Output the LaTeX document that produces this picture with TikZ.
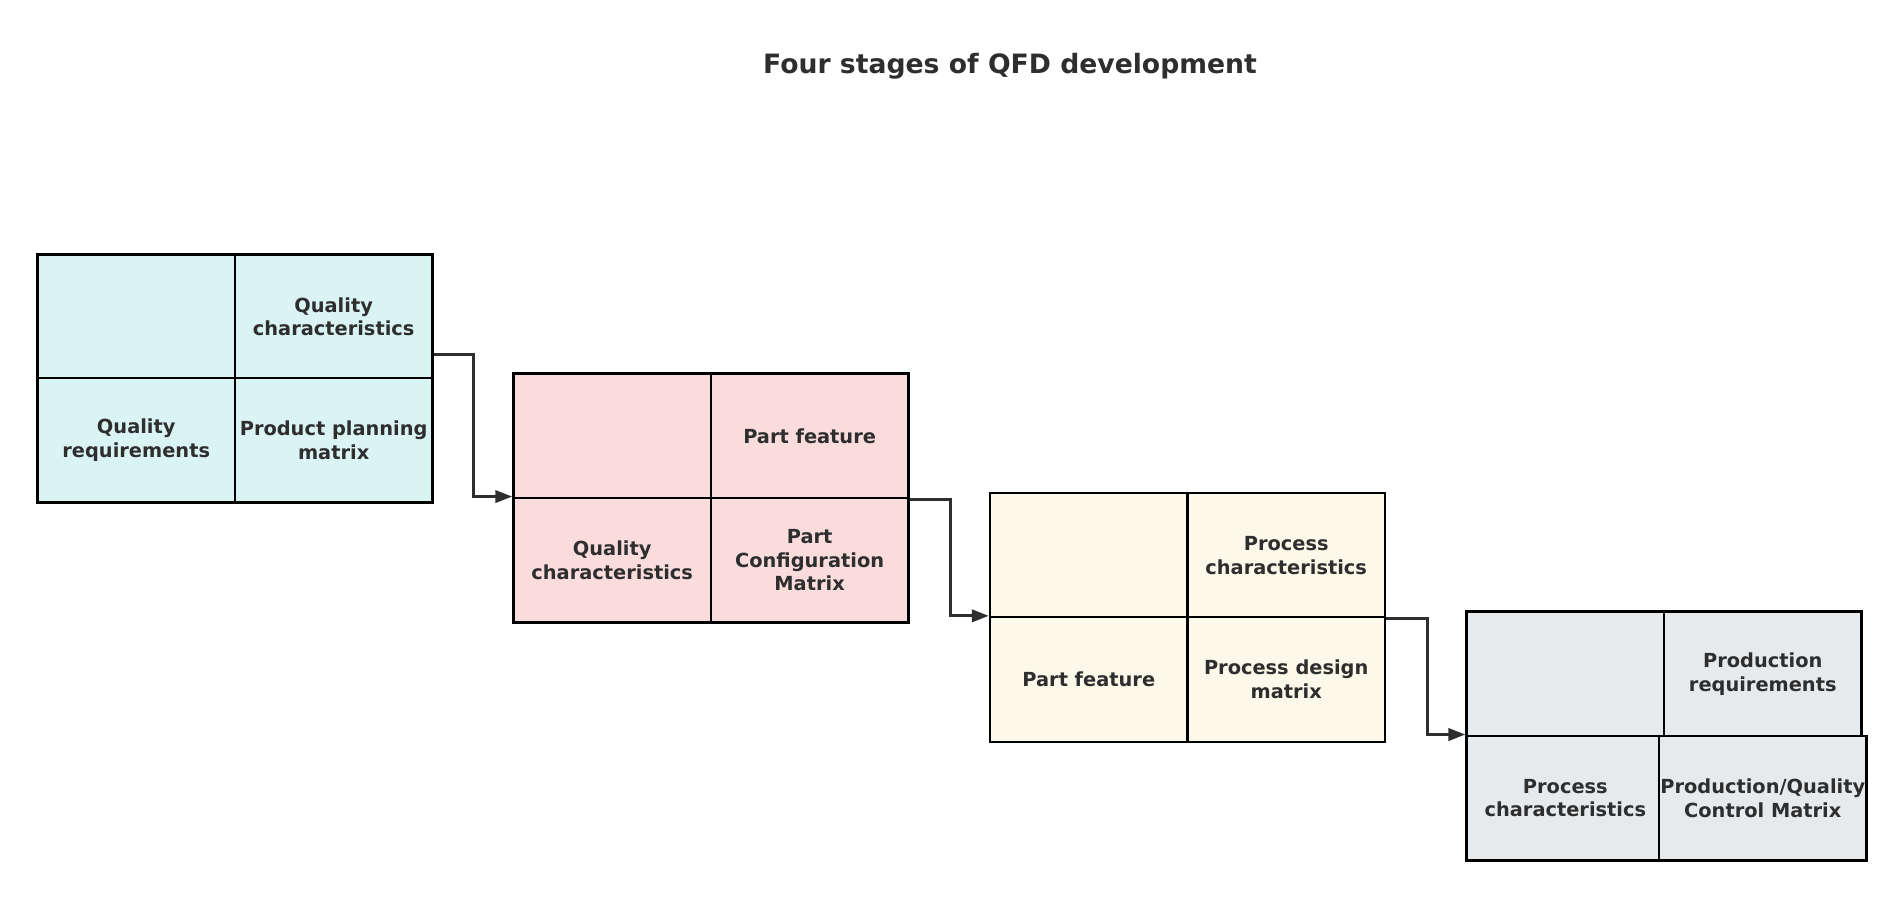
\documentclass[tikz,border=0pt]{standalone}
\usepackage{fontspec}
\setmainfont{DejaVu Sans}
\usetikzlibrary{arrows.meta}
\definecolor{cyanfill}{HTML}{DAF4F3}
\definecolor{pinkfill}{HTML}{FADCDC}
\definecolor{creamfill}{HTML}{FCF8EA}
\definecolor{greyfill}{HTML}{E6EAED}
\definecolor{ink}{HTML}{2E2E2E}
\tikzset{
  cell/.style={draw=black, line width=2pt, minimum width=163pt, minimum height=103pt,
    inner sep=1pt, align=center, text=ink, font=\fontsize{16}{19.5}\selectfont\bfseries},
  link/.style={draw=ink, line width=2.6pt, -{Triangle[length=14pt,width=10pt]}}
}
\begin{document}
\begin{tikzpicture}[x=1pt,y=-1pt]
  \useasboundingbox (0,0) rectangle (1568,741);
  \node[text=ink, font=\fontsize{22}{26}\selectfont\bfseries] (title) at (834,55) {Four stages of QFD development};

  % stage 1
  \node[cell, fill=cyanfill] (a1) at (112.5,261.5) {};
  \node[cell, fill=cyanfill] (a2) at (275.5,261.5) {Quality\\characteristics};
  \node[cell, fill=cyanfill] (a3) at (112.5,363.5) {Quality\\requirements};
  \node[cell, fill=cyanfill] (a4) at (275.5,363.5) {Product planning\\matrix};

  % stage 2
  \node[cell, fill=pinkfill] (b1) at (505.5,360) {};
  \node[cell, fill=pinkfill] (b2) at (668.5,360) {Part feature};
  \node[cell, fill=pinkfill] (b3) at (505.5,462.5) {Quality\\characteristics};
  \node[cell, fill=pinkfill] (b4) at (668.5,462.5) {Part\\Configuration\\Matrix};

  % stage 3
  \node[cell, fill=creamfill] (c1) at (899,458.5) {};
  \node[cell, fill=creamfill] (c2) at (1062,458.5) {Process\\characteristics};
  \node[cell, fill=creamfill] (c3) at (899,561) {Part feature};
  \node[cell, fill=creamfill] (c4) at (1062,561) {Process design\\matrix};

  % stage 4
  \node[cell, fill=greyfill] (d1) at (1292.5,556.5) {};
  \node[cell, fill=greyfill] (d2) at (1455.5,556.5) {Production\\requirements};
  \node[cell, fill=greyfill] (d3) at (1292.5,659) {Process\\characteristics};
  \node[cell, fill=greyfill] (d4) at (1455.5,659) {Production/Quality\\Control Matrix};

  % links
  \draw[link] ([yshift=21pt]a2.south east) -- ++(33,0) |- (b3.north west);
  \draw[link] (b2.south east) -- ++(34,0) |- (c3.north west);
  \draw[link] (c2.south east) -- ++(34,0) |- (d3.north west);
\end{tikzpicture}
\end{document}
